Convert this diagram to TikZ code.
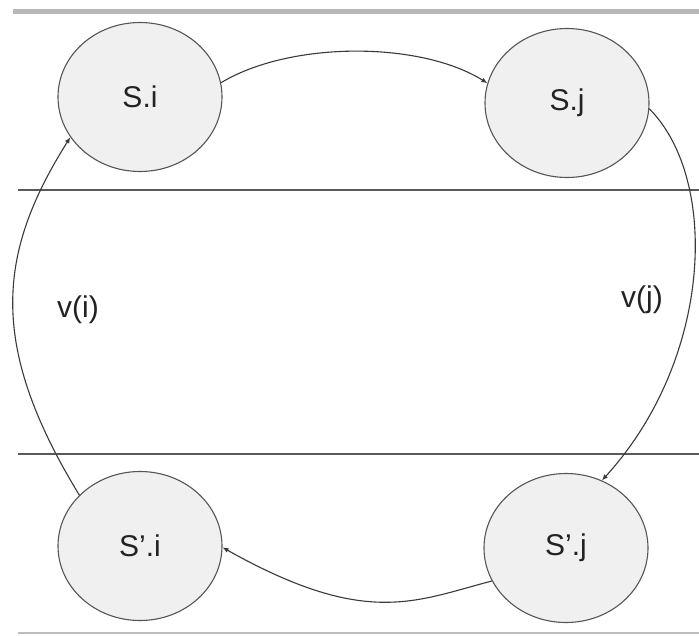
\documentclass[tikz,border=0pt]{standalone}
\usepackage{fontspec}
\setmainfont{Liberation Sans}
\usetikzlibrary{shapes.geometric,arrows.meta}
\definecolor{circfill}{HTML}{F0F0F0}
\definecolor{circline}{HTML}{555555}
\definecolor{arcline}{HTML}{3A3A3A}
\definecolor{rule}{HTML}{5A5A5A}
\definecolor{toprule}{HTML}{B8B8B8}
\definecolor{botrule}{HTML}{BDBDBD}
\definecolor{txt}{HTML}{222222}
\tikzset{
  state/.style={ellipse, draw=circline, fill=circfill, line width=1.1pt,
    minimum width=164pt, minimum height=149pt, inner sep=0pt,
    text=txt, font=\fontsize{30}{34}\selectfont},
  lbl/.style={text=txt, font=\fontsize{30}{34}\selectfont, inner sep=0pt},
  flow/.style={draw=arcline, line width=1.1pt, -{Latex[length=6pt,width=5pt]}},
  band/.style={draw=rule, line width=1.4pt}
}
\begin{document}
\begin{tikzpicture}[x=1pt,y=-1pt]
\useasboundingbox (0,0) rectangle (699,635);
\fill[white] (0,0) rectangle (699,635);
% horizontal rules
\draw[toprule, line width=5pt] (13,11) -- (699,11);
\draw[band] (18,190) -- (699,190);
\draw[band] (18,454) -- (699,454);
\draw[botrule, line width=2pt] (18,633) -- (699,633);
% states
\node[state] (si)  at (140,97)  {S.i};
\node[state] (sj)  at (567,103) {S.j};
\node[state] (sip) at (140,546) {S'.i};
\node[state] (sjp) at (566,548) {S'.j};
% labels
\node[lbl] (vi) at (78,310) {v(i)};
\node[lbl] (vj) at (642,300) {v(j)};
% connectors
\draw[flow] (si.10)  .. controls (290,41)  and (420,41)  .. (sj.166);
\draw[flow] (sj.-4)  .. controls (720,180) and (712,360) .. (sjp.62);
\draw[flow] (sjp.204) .. controls (415,601) and (366,628) .. (sip.-1);
\draw[flow] (sip.140) .. controls (-11,347) and (-4,255) .. (si.210);
\end{tikzpicture}
\end{document}
